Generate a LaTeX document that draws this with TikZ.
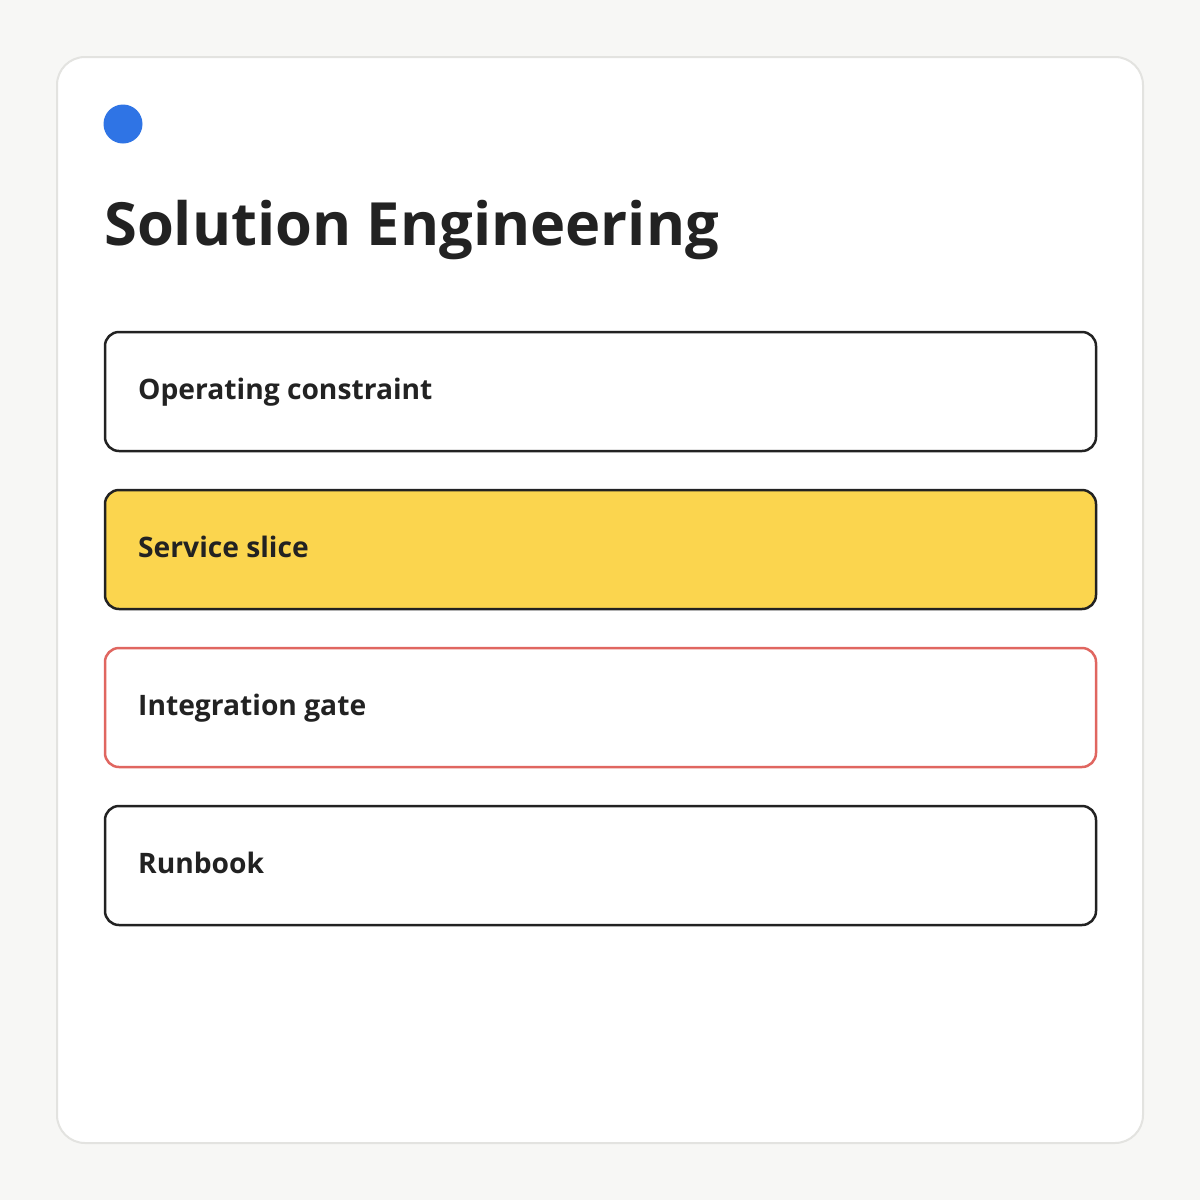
\documentclass[tikz,border=0pt]{standalone}
\usepackage{fontspec}
\setmainfont{Open Sans}
\definecolor{pagebg}{HTML}{F7F7F5}
\definecolor{cardline}{HTML}{E3E3E0}
\definecolor{ink}{HTML}{222222}
\definecolor{dotblue}{HTML}{2F74E5}
\definecolor{hiyellow}{HTML}{FBD54E}
\definecolor{alertred}{HTML}{E06660}
\begin{document}
\begin{tikzpicture}[x=1pt,y=-1pt,
  card/.style={draw=cardline,line width=2pt,fill=white,rounded corners=28pt},
  itembox/.style={draw=ink,line width=2.5pt,fill=white,rounded corners=14pt},
  itemtext/.style={anchor=base west,inner sep=0pt,text=ink,font=\fontsize{28.2}{32}\selectfont\bfseries},
  titletext/.style={anchor=base west,inner sep=0pt,text=ink,font=\fontsize{59.6}{70}\selectfont\bfseries}]
\useasboundingbox (0,0) rectangle (1200,1200);
\fill[pagebg] (0,0) rectangle (1200,1200);
\draw[card] (57,57) rectangle (1143,1143);
\fill[dotblue] (123,124) circle (19.5);
\node[titletext] (title) at (104,245) {Solution Engineering};
\draw[itembox] (105,332) rectangle (1096,451);
\node[itemtext] (t1) at (138,399) {Operating constraint};
\draw[itembox,fill=hiyellow] (105,490) rectangle (1096,609);
\node[itemtext] (t2) at (138,557) {Service slice};
\draw[itembox,draw=alertred] (105,648) rectangle (1096,767);
\node[itemtext] (t3) at (138,715) {Integration gate};
\draw[itembox] (105,806) rectangle (1096,925);
\node[itemtext] (t4) at (138,873) {Runbook};
\end{tikzpicture}
\end{document}
